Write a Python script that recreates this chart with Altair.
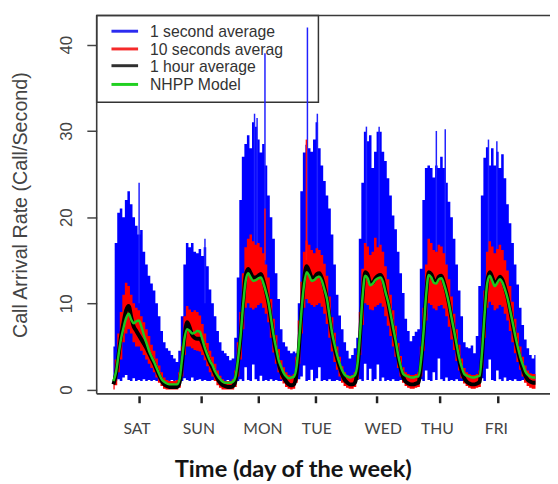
import altair as alt
import pandas as pd

# ---------------- data ----------------
hours = list(range(167))  # hourly samples from the start of the record

green = [1.0, 2.0, 4.0, 5.9, 7.2, 8.3, 8.8, 8.1, 7.7, 7.9, 8.0, 7.3, 6.3, 5.4, 4.5, 3.8, 3.2, 2.5, 1.8, 1.2, 0.9, 0.7, 0.6, 0.6, 0.6,
         0.6, 1.2, 3.6, 6.0, 7.0, 6.8, 6.5, 6.6, 6.8, 6.7, 5.8, 4.8, 4.0, 3.3, 2.8, 2.1, 1.6, 1.2, 0.9, 0.8, 0.8, 0.8, 0.9, 1.5, 3.5,
         6.2, 9.8, 12.6, 13.5, 13.0, 12.6, 12.7, 12.9, 13.0, 12.3, 11.3, 10.1, 8.2, 6.3, 4.8, 3.4, 2.6, 1.9, 1.5, 1.3, 1.4, 1.5, 2.6, 5.5, 9.3,
         12.2, 13.6, 13.2, 12.6, 12.7, 13.0, 13.1, 12.6, 11.6, 10.5, 8.5, 6.6, 5.2, 4.0, 3.0, 2.2, 1.7, 1.5, 1.4, 1.5, 1.7, 3.0, 6.5, 10.8, 13.2,
         12.9, 12.1, 12.3, 12.7, 12.9, 13.0, 12.5, 11.3, 10.2, 8.8, 7.2, 5.7, 4.0, 2.7, 1.8, 1.6, 1.5, 1.4, 1.4, 1.5, 1.5, 3.5, 6.8, 11.0, 13.3,
         13.0, 12.4, 12.3, 12.8, 12.9, 12.2, 11.2, 9.9, 8.3, 6.8, 5.2, 3.7, 2.6, 1.8, 1.6, 1.5, 1.4, 1.4, 1.5, 1.6, 4.5, 8.8, 12.3, 13.2, 12.6,
         12.0, 12.4, 12.8, 12.4, 11.6, 10.6, 9.2, 7.8, 6.3, 5.0, 3.8, 2.9, 2.1, 1.7, 1.5, 1.4, 1.4]

black = [0.6, 1.8, 4.0, 6.2, 7.8, 9.2, 9.7, 8.4, 7.3, 6.8, 6.3, 5.8, 5.3, 4.8, 4.2, 3.6, 3.0, 2.3, 1.6, 1.0, 0.6, 0.4, 0.3, 0.3, 0.3,
         0.3, 0.8, 3.0, 6.2, 7.8, 7.2, 6.3, 6.0, 5.9, 5.9, 5.4, 4.6, 3.8, 3.1, 2.5, 1.8, 1.2, 0.8, 0.5, 0.4, 0.3, 0.3, 0.4, 1.0, 3.2,
         6.0, 10.0, 13.2, 14.0, 13.5, 13.0, 13.0, 13.2, 13.4, 12.6, 11.4, 10.0, 8.0, 6.0, 4.3, 3.0, 2.0, 1.4, 0.9, 0.6, 0.5, 0.6, 1.8, 5.0, 9.2,
         12.8, 14.3, 13.7, 13.0, 13.0, 13.4, 13.5, 12.9, 11.8, 10.4, 8.3, 6.3, 4.8, 3.6, 2.6, 1.7, 1.1, 0.8, 0.6, 0.6, 0.8, 2.4, 6.2, 10.8, 13.6,
         13.3, 12.4, 12.4, 12.9, 13.2, 13.3, 12.8, 11.4, 10.1, 8.5, 6.9, 5.4, 3.7, 2.4, 1.4, 0.9, 0.7, 0.6, 0.6, 0.7, 0.8, 3.0, 6.6, 11.0, 13.6,
         13.4, 12.7, 12.5, 13.1, 13.2, 12.4, 11.3, 9.9, 8.2, 6.6, 4.9, 3.3, 2.1, 1.3, 0.9, 0.7, 0.6, 0.6, 0.7, 0.9, 4.0, 8.7, 12.5, 13.6, 13.0,
         12.3, 12.6, 13.1, 12.7, 11.8, 10.7, 9.2, 7.6, 6.0, 4.6, 3.4, 2.4, 1.6, 1.1, 0.9, 0.8, 0.8]

red_lo = [0, 0.5, 2, 3.5, 5.5, 6.5, 7, 6.5, 5.5, 5, 5, 4.5, 4, 3.5, 3, 2.5, 2, 1.4, 0.8, 0.4, 0.1, 0, 0, 0, 0,
          0, 0.2, 1.5, 4, 5, 5, 4.8, 4.6, 4.5, 4.4, 4, 3.4, 2.7, 2, 1.5, 1, 0.5, 0.2, 0, 0, 0, 0, 0, 0.3, 1.5,
          3.5, 7, 9.5, 10, 9.5, 9.3, 9.5, 9.8, 10, 9.5, 8.8, 7.8, 6, 4.3, 3, 2, 1.2, 0.7, 0.3, 0.1, 0, 0.1, 0.8, 3, 6.5,
          9.5, 10.5, 10, 9.8, 9.6, 9.8, 10, 9.6, 8.8, 7.6, 6, 4.4, 3.2, 2.3, 1.5, 0.8, 0.4, 0.2, 0.1, 0.1, 0.3, 1.2, 4, 7.5, 10,
          9.8, 9.3, 9.2, 9.6, 9.8, 10, 9.6, 8.5, 7.4, 6.2, 5, 3.8, 2.5, 1.5, 0.8, 0.4, 0.2, 0.1, 0.1, 0.2, 0.3, 1.5, 4.5, 8, 10,
          9.8, 9.4, 9.2, 9.7, 9.8, 9.4, 8.5, 7.3, 5.8, 4.6, 3.3, 2.2, 1.3, 0.7, 0.4, 0.2, 0.1, 0.1, 0.2, 0.3, 2.5, 6, 9.5, 10.2, 9.8,
          9.2, 9.4, 9.8, 9.6, 8.8, 8, 6.8, 5.5, 4.2, 3.2, 2.3, 1.5, 0.8, 0.4, 0.2, 0.1, 0.1]

red_hi = [1.5, 3.5, 6.5, 9, 11, 12.4, 12, 11, 10, 9.5, 9.2, 8.5, 7.8, 7, 6.2, 5.2, 4.5, 3.6, 2.8, 2.0, 1.4, 1.1, 1, 1, 1,
          1.1, 2, 5, 8.5, 9.7, 9.3, 9, 9.2, 9, 8.6, 7.6, 6.5, 5.4, 4.5, 3.8, 3, 2.2, 1.6, 1.2, 1, 1, 1, 1.2, 2.2, 5.5,
          9, 13.5, 16.5, 17.5, 18, 17.2, 16.8, 17, 16.5, 15.8, 14.5, 13, 10.5, 8.2, 6.3, 4.7, 3.4, 2.6, 2, 1.7, 1.6, 1.8, 3.8, 8, 12.5,
          16, 17.3, 16.8, 16.2, 15.8, 16.4, 16.2, 15.6, 14.6, 13.2, 10.8, 8.4, 6.6, 5, 3.8, 2.7, 2, 1.7, 1.6, 1.7, 2, 4, 9, 14, 17,
          16.6, 15.6, 16, 17.6, 16.5, 16.8, 16, 14.3, 12.8, 11, 9.2, 7.4, 5.4, 3.9, 2.6, 2, 1.8, 1.7, 1.7, 1.8, 2, 5, 9.5, 14.5, 17.5,
          17, 16.2, 16, 16.8, 16.6, 15.8, 14.5, 12.8, 10.8, 8.8, 7, 5.2, 3.6, 2.5, 2, 1.8, 1.7, 1.7, 1.8, 2.2, 6, 11.5, 16, 17.2, 16.6,
          15.8, 16.3, 16.8, 16.2, 15, 13.8, 12, 10.2, 8.2, 6.6, 5, 3.8, 2.8, 2.2, 1.9, 1.8, 1.8]

blue_lo = [1.1, 1.0, 1.2, 1.0, 1.4, 1.7, 1.1, 1.0, 1.3, 1.0, 1.1, 1.0, 1.2, 1.0, 1.1, 1.0, 1.1, 1.0, 1.0, 1.1, 1.0, 1.1, 1.0, 1.1, 1.0,
           1.1, 1.0, 1.0, 1.3, 1.1, 1.0, 1.4, 1.0, 1.1, 1.2, 1.0, 1.1, 1.0, 1.0, 1.1, 1.0, 1.0, 1.1, 1.0, 1.0, 1.1, 1.0, 1.0, 1.1, 1.0,
           1.2, 1.0, 2.6, 1.1, 1.0, 2.9, 1.2, 1.0, 1.6, 1.0, 1.1, 1.0, 1.2, 1.0, 1.1, 1.0, 1.0, 1.1, 1.0, 1.0, 1.1, 1.0, 1.0, 1.2, 1.5,
           2.8, 1.0, 1.1, 2.3, 1.0, 1.3, 2.6, 1.0, 1.1, 1.0, 1.2, 1.0, 1.0, 1.1, 1.0, 1.0, 1.0, 1.1, 1.0, 1.0, 1.0, 1.1, 1.2, 1.0, 3.0,
           1.1, 2.4, 1.0, 1.2, 2.9, 1.0, 1.4, 1.0, 1.1, 1.0, 1.2, 1.0, 1.0, 1.1, 1.0, 1.0, 1.1, 1.0, 1.0, 1.1, 1.0, 1.2, 1.0, 2.2, 1.1,
           1.0, 2.0, 1.1, 3.6, 1.2, 1.0, 1.4, 1.0, 1.1, 1.0, 1.2, 1.0, 1.0, 1.1, 1.0, 1.0, 1.1, 1.0, 1.0, 1.1, 1.3, 1.0, 2.4, 3.5, 1.1,
           1.0, 2.2, 1.2, 1.0, 1.4, 1.0, 1.1, 1.0, 1.2, 1.0, 1.0, 1.1, 1.0, 1.0, 1.1, 1.0, 1.0]

blue_hi = [5, 17, 20.5, 21, 20, 22, 23, 21.5, 20, 19, 18, 18.5, 16, 14.5, 13.2, 12.3, 11.5, 10, 8.5, 6.8, 5.5, 4.8, 4.5, 4, 3.6,
           3.2, 4.5, 8.5, 14.5, 17, 16.5, 17, 16, 15.8, 16.3, 15.5, 16.5, 14.3, 11.6, 10, 8.5, 6.8, 5.5, 4.5, 4.2, 3.9, 3.4, 3.6, 6, 13,
           22, 27, 28.5, 29.5, 28, 31, 30.5, 29, 27.5, 28.5, 26, 22.5, 20, 17.5, 13.5, 10.5, 7, 5.5, 5, 4.5, 4.2, 4.4, 4.2, 10, 23,
           27.5, 28.4, 28, 27.6, 29, 31, 28, 26, 24.2, 22.5, 21, 18, 14.5, 11, 8.6, 7, 5.5, 4.5, 3.6, 4, 4.8, 6, 17.5, 24, 29.9,
           28.8, 29.5, 25.7, 27.6, 29.9, 29.9, 27.6, 26.5, 24.5, 22.5, 20.2, 18.6, 16, 13.5, 11.2, 8.2, 6.8, 5.6, 6.2, 6.7, 7, 14, 22, 25.7, 26,
           25.7, 24.6, 26, 25.7, 27, 25.7, 24, 21.8, 20, 17.5, 14.5, 11.5, 8.5, 5.5, 4.9, 4.8, 5.1, 4.2, 6.2, 12, 22.5, 26.9, 28.1, 26, 28,
           26, 27.6, 25.7, 27.3, 24.5, 21.5, 19.3, 17, 14.5, 12.2, 9.5, 7.5, 5.8, 4.8, 4, 3.6, 4]

blue_spike_t = [10.1, 36.0, 55.5, 56.5, 59.6, 76.3, 80.2, 99.5, 104.5, 127.0, 130.5, 147.5, 150.8]
blue_spike_top = [24.0, 17.5, 32.0, 31.5, 39.0, 42.0, 32.0, 30.5, 30.5, 30.0, 30.2, 29.0, 28.8]
red_spike_t = [59.6, 75.9]
red_spike_top = [21.0, 29.0]

days = ["SAT", "SUN", "MON", "TUE", "WED", "THU", "FRI"]
day_label_t = [9.3, 33.6, 58.8, 80.0, 106.1, 127.4, 150.6]
day_tick_t = [10.1, 34.6, 57.0, 79.6, 103.4, 128.1, 151.1]

y_ticks = [0, 10, 20, 30, 40]

legend_labels = ["1 second average", "10 seconds averag", "1 hour average", "NHPP Model"]
legend_colors = ["#2b2bf0", "#f52a2a", "#303030", "#20d020"]

for arr in (green, black, red_lo, red_hi, blue_lo, blue_hi):
    assert len(arr) == len(hours), len(arr)

# ---------------- chart ----------------
W, H = 460, 384
df = pd.DataFrame({"t": hours, "green": green, "black": black, "red_lo": red_lo,
                   "red_hi": red_hi, "blue_lo": blue_lo, "blue_hi": blue_hi})
bs = pd.DataFrame({"t": blue_spike_t, "top": blue_spike_top, "base": [10.0] * len(blue_spike_t)})
rs = pd.DataFrame({"t": red_spike_t, "top": red_spike_top, "base": [15.0] * len(red_spike_t)})
lab = pd.DataFrame({"t": day_label_t, "day": days})

xscale = alt.Scale(domain=[-6.58, 171.7], nice=False, zero=False)
yscale = alt.Scale(domain=[-0.5, 43.4], nice=False, zero=False)
xaxis = alt.Axis(values=day_tick_t, grid=False, domain=False, labels=False, ticks=True,
                 tickSize=7, tickWidth=2.5, tickColor="#222", offset=2, title="")
yaxis = alt.Axis(values=y_ticks, grid=False, domain=False, ticks=True, tickSize=10, tickWidth=1.5,
                 tickColor="#444", labelAngle=270, labelAlign="center", labelBaseline="alphabetic",
                 labelPadding=16, labelFont="Liberation Sans", labelFontSize=17, labelColor="#444",
                 title="Call Arrival Rate (Call/Second)", titleFont="Liberation Sans", titleFontSize=20,
                 titleFontWeight="normal", titleColor="#444", titleAngle=270, titleX=-71, titleY=192,
                 titleAlign="center", titleBaseline="alphabetic")

X = alt.X("t:Q", scale=xscale, axis=xaxis)


def Y(field):
    return alt.Y(field, type="quantitative", scale=yscale, axis=yaxis)


one = pd.DataFrame({"k": [0]})

# legend box (under the data, spikes cross it)
layers = [alt.Chart(one).mark_rect(fill="white", stroke="#333", strokeWidth=1.5).encode(
    x=alt.value(0), x2=alt.value(225), y=alt.value(0), y2=alt.value(88))]
leg_y = [16, 34, 51, 70]
for lbl, col, yy in zip(legend_labels, legend_colors, leg_y):
    d = pd.DataFrame({"label": [lbl]})
    layers.append(alt.Chart(d).mark_rule(color=col, strokeWidth=3).encode(
        x=alt.value(15), x2=alt.value(42), y=alt.value(yy)))
    layers.append(alt.Chart(d).mark_text(align="left", baseline="middle", font="Liberation Sans",
                                         fontSize=16, color="#333").encode(
        x=alt.value(54), y=alt.value(yy + 1), text="label:N"))

base = alt.Chart(df)
layers += [
    base.mark_area(color="#0000ff", interpolate="step").encode(x=X, y=Y("blue_lo"), y2="blue_hi"),
    alt.Chart(bs).mark_rule(color="#2020ff", strokeWidth=1.5).encode(x=X, y=Y("base"), y2="top"),
    base.mark_area(color="#ff0000", interpolate="step").encode(x=X, y=Y("red_lo"), y2="red_hi"),
    alt.Chart(rs).mark_rule(color="#ff1010", strokeWidth=1.5).encode(x=X, y=Y("base"), y2="top"),
    base.mark_line(color="#000000", strokeWidth=4, interpolate="monotone").encode(x=X, y=Y("black")),
    base.mark_line(color="#1ec81e", strokeWidth=2.5, interpolate="monotone").encode(x=X, y=Y("green")),
    alt.Chart(lab).mark_text(font="Lato", fontSize=16, color="#444", align="center",
                             baseline="alphabetic").encode(x=X, y=alt.value(425), text="day:N"),
    alt.Chart(one).mark_text(text="Time (day of the week)", font="Lato", fontSize=24, fontWeight="bold",
                             color="#141414", align="center", baseline="alphabetic").encode(
        x=alt.value(199.5), y=alt.value(468)),
    # frame (left, top, bottom)
    alt.Chart(one).mark_rule(color="#3a3a3a", strokeWidth=1.6).encode(
        x=alt.value(0), y=alt.value(0), y2=alt.value(H)),
    alt.Chart(one).mark_rule(color="#3a3a3a", strokeWidth=1.6).encode(
        x=alt.value(0), x2=alt.value(W), y=alt.value(0)),
    alt.Chart(one).mark_rule(color="#3a3a3a", strokeWidth=1.6).encode(
        x=alt.value(0), x2=alt.value(W), y=alt.value(H)),
]

chart = alt.layer(*layers).properties(
    width=W, height=H,
    autosize=alt.AutoSizeParams(type="none"),
    padding={"left": 90, "top": 4, "right": 0, "bottom": 94},
    background="white",
).configure_view(strokeWidth=0)

chart.save("out.html", embed_options={"renderer": "svg", "actions": False})
